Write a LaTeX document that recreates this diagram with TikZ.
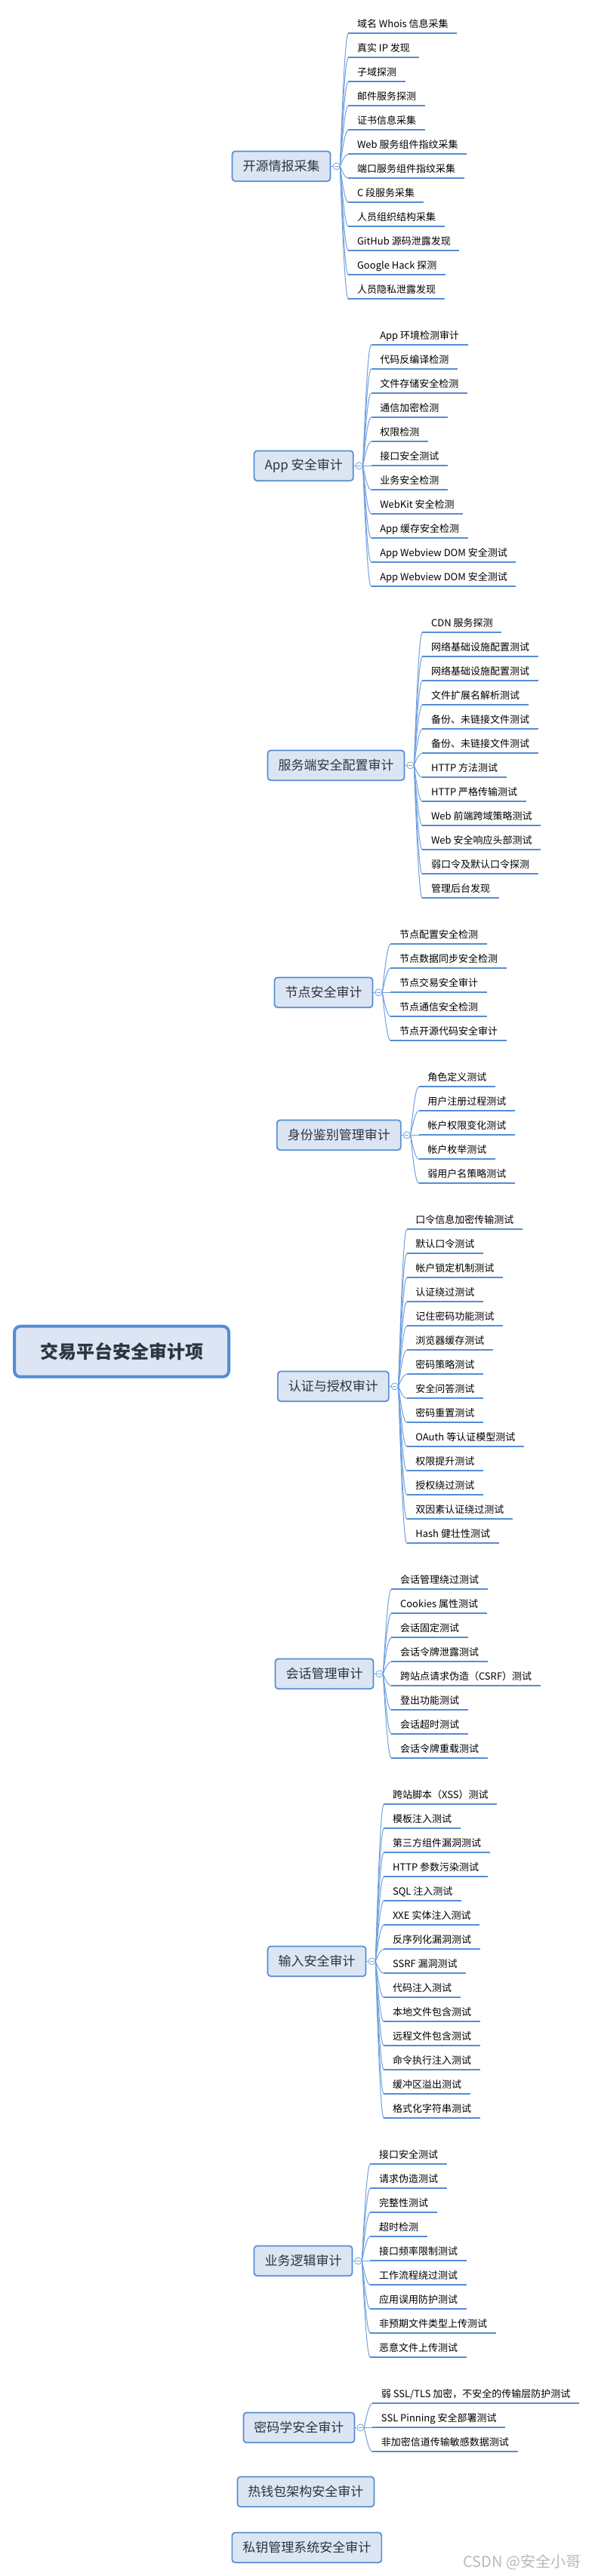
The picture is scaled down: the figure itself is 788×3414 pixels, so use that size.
\documentclass[tikz,border=0pt]{standalone}
\usepackage{fontspec}
\setmainfont{Noto Sans CJK SC}
\usepackage{tikz}
\usetikzlibrary{calc,backgrounds}
\definecolor{lineblue}{RGB}{84,141,212}
\definecolor{twigblue}{RGB}{112,160,222}
\definecolor{boxfill}{RGB}{219,229,243}
\definecolor{boxtext}{RGB}{45,52,66}
\tikzset{
  rootbox/.style={draw=lineblue, line width=3pt, fill=boxfill, rounded corners=6pt,
    minimum width=213pt, minimum height=50.25pt, text=boxtext,
    font=\fontsize{18pt}{20pt}\selectfont\bfseries},
  branch/.style={draw=lineblue, line width=1.3pt, fill=boxfill, rounded corners=3pt,
    anchor=west, inner xsep=10.5pt, minimum height=29.8pt, text=boxtext,
    font=\fontsize{12.75pt}{14pt}\selectfont},
  leaf/.style={anchor=south west, inner xsep=8.5pt, inner ysep=0pt, text depth=6pt,
    font=\fontsize{9.75pt}{11pt}\selectfont},
  uline/.style={draw=lineblue, line width=1.6pt},
  twig/.style={draw=twigblue, line width=0.75pt},
  trunk/.style={draw=twigblue, line width=0.75pt},
  dot/.style={circle, draw=twigblue, line width=0.6pt, fill=white, minimum size=6.75pt, inner sep=0pt,
    path picture={\draw[twigblue, line width=0.6pt] ([xshift=-2pt]path picture bounding box.center)
      -- ([xshift=2pt]path picture bounding box.center);}},
  wmark/.style={anchor=east, text=gray!55, font=\fontsize{15pt}{16pt}\selectfont}
}
% #1 branch, #2 number of leaves, #3 leaf texts
\newcommand\leaves[3]{%
  \node[dot] (#1-dot) at ([xshift=5.25pt]#1.east) {};
  \draw[twig] (#1.east) -- (#1-dot);
  \foreach \txt [count=\idx] in {#3}{
    \pgfmathsetmacro\dy{32*(\idx-(#2+1)/2)}
    \node[leaf] (#1-\idx) at ($(#1-dot.center)+(16,\dy)$) {\txt};
    \draw[twig] (#1-dot.east) .. controls +(4.3,{0.667*\dy}) and +(-3.7,0) .. (#1-\idx.south west);
    \draw[uline] (#1-\idx.south west) -- (#1-\idx.south east);
  }}

\begin{document}
\begin{tikzpicture}[x=0.75pt, y=-0.75pt]
\useasboundingbox (0,0) rectangle (788,3414);
\fill[white] (0,0) rectangle (788,3414);

\node[rootbox] (root) at (161,1791.2) {交易平台安全审计项};

\node[branch] (osint) at (306.7,220.3) {开源情报采集};
\node[branch] (appsec) at (335.7,617.3) {App 安全审计};
\node[branch] (srvcfg) at (353.7,1014.3) {服务端安全配置审计};
\node[branch] (nodesec) at (362.7,1315.3) {节点安全审计};
\node[branch] (ident) at (366,1504.3) {身份鉴别管理审计};
\node[branch] (authz) at (367,1837.3) {认证与授权审计};
\node[branch] (sessn) at (363.7,2218.3) {会话管理审计};
\node[branch] (inputv) at (353.7,2599.3) {输入安全审计};
\node[branch] (bizlogic) at (335.7,2996.3) {业务逻辑审计};
\node[branch] (crypto) at (321.6,3217.3) {密码学安全审计};
\node[branch] (hotwallet) at (313.6,3302.3) {热钱包架构安全审计};
\node[branch] (keymgmt) at (306.5,3376.3) {私钥管理系统安全审计};

\begin{scope}[on background layer]
\foreach \b in {osint,appsec,srvcfg,nodesec,ident,authz,sessn,inputv,bizlogic,crypto,hotwallet,keymgmt}{
  \coordinate (m) at ($(root.center)!.36!(\b.west)$);
  \coordinate (c) at (m |- \b.west);
  \draw[trunk] (root.center) .. controls ($(root.center)!.667!(c)$) and ($(\b.west)!.667!(c)$) .. (\b.west);
}
\end{scope}

\leaves{osint}{12}{域名 Whois 信息采集, 真实 IP 发现, 子域探测, 邮件服务探测, 证书信息采集,
  Web 服务组件指纹采集, 端口服务组件指纹采集, C 段服务采集, 人员组织结构采集,
  GitHub 源码泄露发现, Google Hack 探测, 人员隐私泄露发现}
\leaves{appsec}{11}{App 环境检测审计, 代码反编译检测, 文件存储安全检测, 通信加密检测, 权限检测,
  接口安全测试, 业务安全检测, WebKit 安全检测, App 缓存安全检测,
  App Webview DOM 安全测试, App Webview DOM 安全测试}
\leaves{srvcfg}{12}{CDN 服务探测, 网络基础设施配置测试, 网络基础设施配置测试, 文件扩展名解析测试,
  备份、未链接文件测试, 备份、未链接文件测试, HTTP 方法测试, HTTP 严格传输测试,
  Web 前端跨域策略测试, Web 安全响应头部测试, 弱口令及默认口令探测, 管理后台发现}
\leaves{nodesec}{5}{节点配置安全检测, 节点数据同步安全检测, 节点交易安全审计, 节点通信安全检测,
  节点开源代码安全审计}
\leaves{ident}{5}{角色定义测试, 用户注册过程测试, 帐户权限变化测试, 帐户枚举测试, 弱用户名策略测试}
\leaves{authz}{14}{口令信息加密传输测试, 默认口令测试, 帐户锁定机制测试, 认证绕过测试,
  记住密码功能测试, 浏览器缓存测试, 密码策略测试, 安全问答测试, 密码重置测试,
  OAuth 等认证模型测试, 权限提升测试, 授权绕过测试, 双因素认证绕过测试, Hash 健壮性测试}
\leaves{sessn}{8}{会话管理绕过测试, Cookies 属性测试, 会话固定测试, 会话令牌泄露测试,
  跨站点请求伪造（CSRF）测试, 登出功能测试, 会话超时测试, 会话令牌重载测试}
\leaves{inputv}{14}{跨站脚本（XSS）测试, 模板注入测试, 第三方组件漏洞测试, HTTP 参数污染测试,
  SQL 注入测试, XXE 实体注入测试, 反序列化漏洞测试, SSRF 漏洞测试, 代码注入测试,
  本地文件包含测试, 远程文件包含测试, 命令执行注入测试, 缓冲区溢出测试, 格式化字符串测试}
\leaves{bizlogic}{9}{接口安全测试, 请求伪造测试, 完整性测试, 超时检测, 接口频率限制测试,
  工作流程绕过测试, 应用误用防护测试, 非预期文件类型上传测试, 恶意文件上传测试}
\leaves{crypto}{3}{{弱 SSL/TLS 加密，不安全的传输层防护测试}, SSL Pinning 安全部署测试,
  非加密信道传输敏感数据测试}

\node[wmark] (csdn) at (774,3396) {CSDN @安全小哥};
\end{tikzpicture}
\end{document}
